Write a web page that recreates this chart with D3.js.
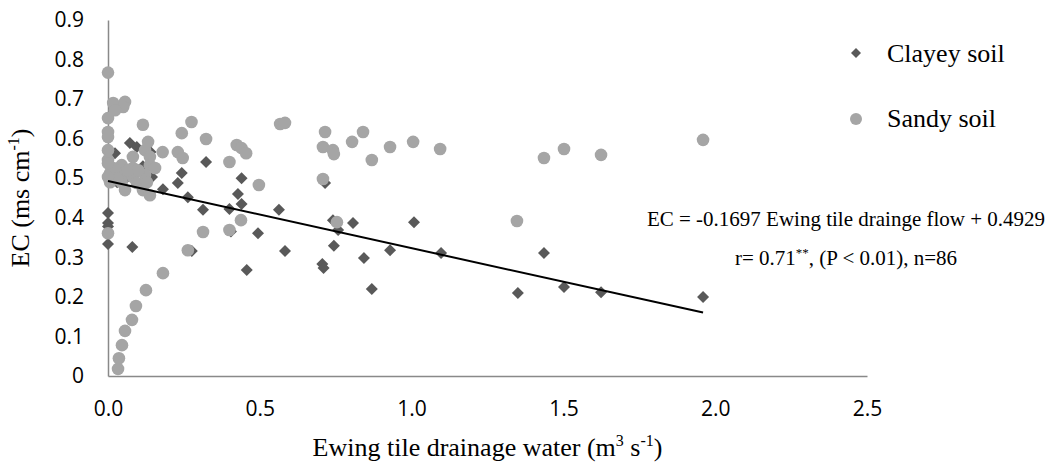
<!DOCTYPE html>
<html>
<head>
<meta charset="utf-8">
<script src="https://cdn.jsdelivr.net/npm/d3@7"></script>
<style>
  html, body { margin: 0; padding: 0; background: #fff; }
  svg { display: block; }
</style>
</head>
<body>
<svg id="chart" width="1054" height="470"></svg>
<script>
// ---- data ----
const clayX = [0, 0, 0, 0, 0.08, 0.072, 0.095, 0.023, 0.115, 0.145, 0.243, 0.23, 0.181, 0.263, 0.323, 0.313, 0.44, 0.428, 0.44, 0.40, 0.494, 0.563, 0.583, 0.276, 0.457, 0.715, 0.741, 0.758, 0.807, 0.744, 0.706, 0.71, 0.843, 0.869, 0.929, 1.008, 1.097, 1.35, 1.436, 1.502, 1.624, 1.96, 0.0, 0.01, 0.03, 0.06, 0.09, 0.14, 0.405];
const clayY = [0.412, 0.387, 0.378, 0.334, 0.326, 0.589, 0.579, 0.563, 0.530, 0.503, 0.513, 0.488, 0.472, 0.452, 0.541, 0.42, 0.50, 0.46, 0.435, 0.422, 0.361, 0.42, 0.316, 0.316, 0.268, 0.488, 0.394, 0.369, 0.387, 0.329, 0.283, 0.273, 0.298, 0.22, 0.318, 0.389, 0.311, 0.21, 0.311, 0.225, 0.212, 0.2, 0.50, 0.52, 0.49, 0.50, 0.51, 0.566, 0.365];

const sandX = [0, 0.017, 0.056, 0.05, 0.023, 0, 0.115, 0.275, 0, 0, 0.243, 0.323, 0.132, 0.567, 0.583, 0.424, 0.44, 0.455, 0, 0.122, 0.18, 0.23, 0.246, 0.4, 0, 0.082, 0.138, 0.138, 0.155, 0.045, 0.082, 0.007, 0.05, 0.082, 0.122, 0.007, 0.045, 0.095, 0.128, 0.056, 0.115, 0.138, 0.497, 0.438, 0.4, 0.313, 0, 0.263, 0.181, 0.125, 0.092, 0.079, 0.056, 0.046, 0.036, 0.033, 0.715, 0.84, 0.708, 0.741, 0.744, 0.804, 0.869, 0.929, 1.005, 1.094, 0.708, 0.754, 1.347, 1.436, 1.502, 1.624, 1.96, 0.02, 0.03, 0.065, 0.1, 0, 0];
const sandY = [0.767, 0.69, 0.693, 0.68, 0.672, 0.652, 0.635, 0.642, 0.617, 0.604, 0.614, 0.599, 0.592, 0.637, 0.64, 0.584, 0.576, 0.563, 0.571, 0.571, 0.566, 0.566, 0.551, 0.541, 0.546, 0.554, 0.554, 0.533, 0.526, 0.533, 0.526, 0.513, 0.508, 0.503, 0.508, 0.49, 0.49, 0.488, 0.49, 0.47, 0.47, 0.457, 0.483, 0.394, 0.369, 0.364, 0.361, 0.318, 0.26, 0.217, 0.177, 0.142, 0.114, 0.078, 0.045, 0.018, 0.617, 0.617, 0.579, 0.571, 0.561, 0.592, 0.546, 0.579, 0.592, 0.574, 0.498, 0.389, 0.392, 0.551, 0.574, 0.559, 0.597, 0.525, 0.5, 0.52, 0.52, 0.538, 0.503];

const seriesNames = ["Clayey soil", "Sandy soil"];
const xTicks = [0, 0.5, 1.0, 1.5, 2.0, 2.5];
const xTickLabels = ["0.0", "0.5", "1.0", "1.5", "2.0", "2.5"];
const yTicks = [0, 0.1, 0.2, 0.3, 0.4, 0.5, 0.6, 0.7, 0.8, 0.9];
const yTickLabels = ["0", "0.1", "0.2", "0.3", "0.4", "0.5", "0.6", "0.7", "0.8", "0.9"];
const fitSlope = -0.1697;
const fitIntercept = 0.4929;
const fitRange = [0, 1.96];

// ---- layout ----
const svg = d3.select("#chart");
const pLeft = 108, pRight = 867, pTop = 20, pBottom = 376;
const x = d3.scaleLinear().domain([0, 2.5]).range([pLeft, pRight]);
const y = d3.scaleLinear().domain([0, 0.9]).range([pBottom, pTop]);

const clayColor = "#595959";
const sandColor = "#A5A5A5";
const axisColor = "#898989";
const tickFont = "'Open Sans', sans-serif";
const serif = "'Liberation Serif', 'Times New Roman', serif";

// axes
const yAxis = d3.axisLeft(y).tickValues(yTicks)
  .tickFormat((d, i) => yTickLabels[i]).tickSize(0).tickPadding(24);
const gy = svg.append("g").attr("transform", `translate(${pLeft},0)`).call(yAxis);
gy.select(".domain").attr("stroke", axisColor).attr("stroke-width", 1.5);
gy.selectAll("text").attr("font-family", tickFont).attr("font-size", 21).attr("fill", "#000");

const xAxis = d3.axisBottom(x).tickValues(xTicks)
  .tickFormat((d, i) => xTickLabels[i]).tickSize(0).tickPadding(25);
const gx = svg.append("g").attr("transform", `translate(0,${pBottom})`).call(xAxis);
gx.select(".domain").attr("stroke", axisColor).attr("stroke-width", 1.5);
gx.selectAll("text").attr("font-family", tickFont).attr("font-size", 21).attr("fill", "#000");

// marks
const diamond = d3.symbol().type(d3.symbolSquare).size(72);
const clay = clayX.map((v, i) => ({x: v, y: clayY[i]}));
const sand = sandX.map((v, i) => ({x: v, y: sandY[i]}));

svg.append("g").selectAll("path").data(clay).join("path")
  .attr("d", diamond)
  .attr("transform", d => `translate(${x(d.x)},${y(d.y)}) rotate(45)`)
  .attr("fill", clayColor);

svg.append("g").selectAll("circle").data(sand).join("circle")
  .attr("cx", d => x(d.x)).attr("cy", d => y(d.y)).attr("r", 6.3)
  .attr("fill", sandColor);

// trend line
const fit = fitRange.map(v => ({x: v, y: fitIntercept + fitSlope * v}));
svg.append("path").datum(fit)
  .attr("d", d3.line().x(d => x(d.x)).y(d => y(d.y)))
  .attr("stroke", "#000").attr("stroke-width", 2).attr("fill", "none");

// annotations
svg.append("text").attr("x", 846).attr("y", 226).attr("text-anchor", "middle")
  .attr("font-family", serif).attr("font-size", 21)
  .text("EC = -0.1697 Ewing tile drainge flow + 0.4929");
const t2 = svg.append("text").attr("x", 846).attr("y", 265).attr("text-anchor", "middle")
  .attr("font-family", serif).attr("font-size", 21);
t2.append("tspan").text("r= 0.71");
t2.append("tspan").attr("dy", -8).attr("font-size", 13).text("**");
t2.append("tspan").attr("dy", 8).text(", (P < 0.01), n=86");

// legend
const lg = svg.append("g");
lg.append("path").attr("d", d3.symbol().type(d3.symbolSquare).size(50))
  .attr("transform", "translate(856,53) rotate(45)").attr("fill", clayColor);
lg.append("circle").attr("cx", 856).attr("cy", 119).attr("r", 6).attr("fill", sandColor);
lg.append("text").attr("x", 887).attr("y", 62).attr("font-family", serif).attr("font-size", 26).text(seriesNames[0]);
lg.append("text").attr("x", 887).attr("y", 127).attr("font-family", serif).attr("font-size", 26).text(seriesNames[1]);

// axis titles
const xt = svg.append("text").attr("x", (pLeft + pRight) / 2).attr("y", 456).attr("text-anchor", "middle")
  .attr("font-family", serif).attr("font-size", 26);
xt.append("tspan").text("Ewing tile drainage water (m");
xt.append("tspan").attr("dy", -10).attr("font-size", 16).text("3");
xt.append("tspan").attr("dy", 10).text(" s");
xt.append("tspan").attr("dy", -10).attr("font-size", 16).text("-1");
xt.append("tspan").attr("dy", 10).text(")");

const yt = svg.append("text").attr("transform", `translate(29,${(pTop + pBottom) / 2}) rotate(-90)`)
  .attr("text-anchor", "middle").attr("font-family", serif).attr("font-size", 26);
yt.append("tspan").text("EC (ms cm");
yt.append("tspan").attr("dy", -10).attr("font-size", 16).text("-1");
yt.append("tspan").attr("dy", 10).text(")");
</script>
</body>
</html>
